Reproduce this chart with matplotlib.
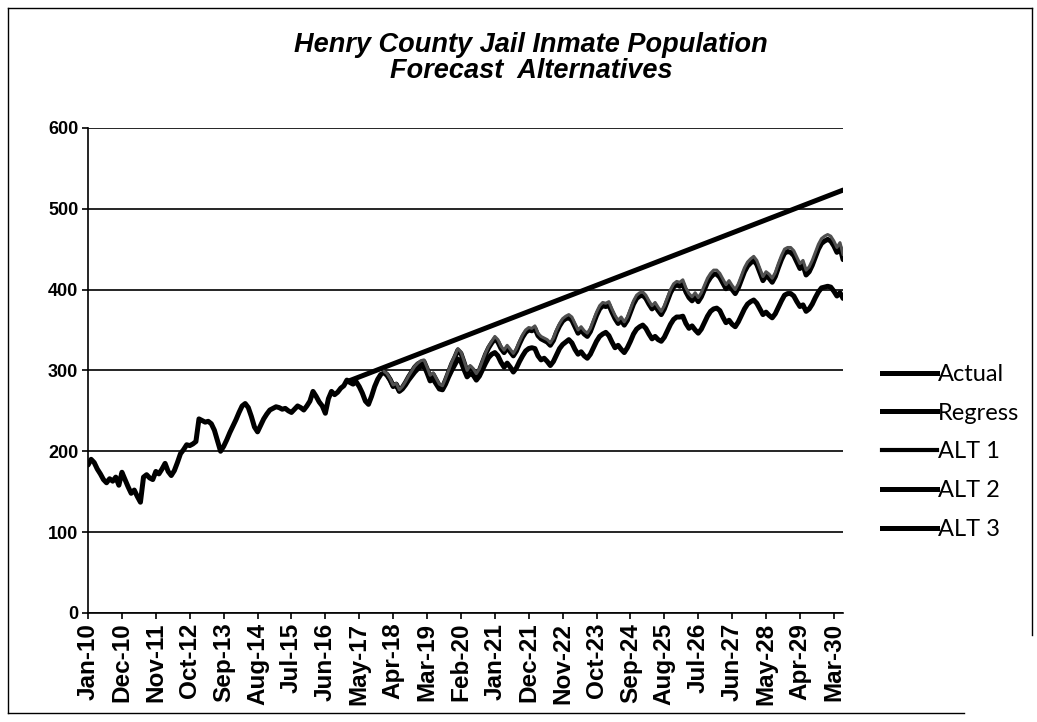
import matplotlib.pyplot as plt
from matplotlib.lines import Line2D
import numpy as np
import pandas as pd

# monthly categories Jan-10 .. Jun-30
months = pd.date_range("2010-01-01", periods=246, freq="MS").strftime("%b-%y").tolist()

# Actual, Jan-10 .. Dec-17
actual = [
    183, 190, 186, 178, 172, 165, 161, 166, 163, 168, 158, 174,  # 2010
    165, 156, 148, 152, 144, 137, 168, 171, 167, 165, 175, 172,  # 2011
    178, 185, 175, 170, 176, 186, 197, 202, 208, 207, 209, 212,  # 2012
    240, 238, 236, 237, 234, 226, 213, 200, 206, 214, 223, 231,  # 2013
    239, 248, 256, 259, 254, 243, 230, 224, 232, 240, 246, 251,  # 2014
    253, 255, 254, 252, 253, 250, 248, 252, 256, 254, 251, 256,  # 2015
    262, 274, 268, 261, 256, 247, 265, 274, 270, 273, 278, 281,  # 2016
    288, 285, 283, 286, 280, 272, 262, 258, 268, 280, 289, 295,  # 2017
]

# Regression trend line (straight line, start and end)
regress_months = ["Jan-17", "Jun-30"]
regress = [286, 523]

# forecasts, Jan-18 .. Jun-30
alt1 = [
    299, 296, 290, 282, 284, 276, 280, 286, 293, 299, 305, 309,  # 2018
    312, 313, 304, 294, 297, 290, 283, 281, 290, 300, 310, 318,  # 2019
    327, 323, 312, 300, 306, 302, 296, 302, 312, 322, 330, 336,  # 2020
    342, 338, 330, 325, 331, 326, 321, 327, 336, 344, 350, 353,  # 2021
    352, 355, 346, 342, 340, 338, 334, 340, 350, 358, 364, 367,  # 2022
    369, 366, 358, 350, 354, 349, 346, 352, 362, 372, 380, 384,  # 2023
    383, 385, 376, 368, 362, 366, 360, 366, 376, 386, 393, 396,  # 2024
    397, 393, 386, 380, 384, 378, 373, 380, 390, 400, 407, 410,  # 2025
    409, 412, 402, 395, 391, 396, 390, 396, 405, 414, 420, 424,  # 2026
    424, 420, 413, 406, 411, 405, 400, 407, 417, 427, 434, 438,  # 2027
    441, 436, 426, 416, 422, 419, 414, 421, 432, 442, 450, 452,  # 2028
    452, 448, 440, 432, 436, 424, 428, 436, 446, 456, 463, 466,  # 2029
    468, 466, 460, 452, 458, 443,                                # 2030
]
alt2 = [
    298, 295, 289, 281, 283, 275, 279, 285, 292, 298, 304, 308,
    310, 311, 302, 292, 295, 288, 281, 279, 288, 298, 308, 316,
    325, 321, 310, 298, 304, 300, 294, 300, 310, 320, 328, 334,
    339, 335, 327, 322, 328, 323, 318, 324, 333, 341, 347, 350,
    349, 352, 343, 339, 337, 335, 331, 337, 347, 355, 361, 364,
    365, 362, 354, 346, 350, 345, 342, 348, 358, 368, 376, 380,
    379, 381, 372, 364, 358, 362, 356, 362, 372, 382, 389, 392,
    393, 389, 382, 376, 380, 374, 369, 376, 386, 396, 403, 406,
    404, 407, 397, 390, 386, 391, 385, 391, 400, 409, 415, 419,
    419, 415, 408, 401, 406, 400, 395, 402, 412, 422, 429, 433,
    436, 431, 421, 411, 417, 414, 409, 416, 427, 437, 445, 447,
    446, 442, 434, 426, 430, 418, 422, 430, 440, 450, 457, 460,
    462, 460, 454, 446, 452, 437,
]
alt3 = [
    297, 294, 288, 280, 282, 274, 277, 282, 288, 293, 298, 302,
    305, 306, 297, 287, 289, 283, 277, 276, 283, 292, 300, 307,
    314, 311, 301, 292, 296, 294, 288, 293, 301, 309, 316, 320,
    322, 318, 310, 304, 309, 304, 298, 303, 311, 318, 324, 327,
    328, 327, 318, 313, 315, 311, 306, 311, 319, 327, 332, 335,
    338, 334, 326, 320, 323, 318, 315, 320, 328, 336, 342, 345,
    347, 343, 335, 328, 331, 326, 322, 328, 336, 345, 351, 354,
    356, 352, 345, 339, 342, 338, 336, 341, 349, 357, 363, 366,
    366, 367, 358, 352, 355, 350, 346, 351, 359, 367, 373, 376,
    377, 374, 366, 359, 362, 357, 354, 360, 368, 376, 382, 385,
    387, 383, 376, 369, 372, 368, 365, 370, 378, 386, 393, 395,
    395, 392, 385, 379, 381, 373, 376, 382, 390, 397, 402, 403,
    404, 403, 398, 392, 396, 389,
]
forecast_start = "Jan-18"

x = np.arange(len(months))
x_act = x[:len(actual)]
f0 = months.index(forecast_start)
x_fc = x[f0:f0 + len(alt1)]
x_reg = [months.index(m) for m in regress_months]

plt.rcParams['font.family'] = ['Liberation Sans', 'DejaVu Sans']

fig = plt.figure(figsize=(10.37, 7.22), dpi=100)
ax = fig.add_axes([0.0849, 0.151, 0.7281, 0.672])

lw = 3.6
ax.plot(x_act, actual, color='black', lw=lw, solid_capstyle='round', zorder=3)
ax.plot(x_reg, regress, color='black', lw=lw, solid_capstyle='round', zorder=3)
ax.plot(x_fc, alt2, color='black', lw=lw, solid_capstyle='round', zorder=3)
ax.plot(x_fc, alt1, color='#505050', lw=2.2, solid_capstyle='round', zorder=4)
ax.plot(x_fc, alt3, color='black', lw=lw, solid_capstyle='round', zorder=3)

ax.set_xlim(0, len(months) - 1)
ax.set_ylim(0, 600)
ax.set_yticks(range(0, 601, 100))
ax.set_xticks(x[::11])
ax.set_xticklabels(months[::11], rotation=90, fontsize=17.5, fontweight='bold')
for t in ax.get_yticklabels():
    t.set_fontsize(13)
    t.set_fontweight('bold')

ax.grid(axis='y', color='black', lw=1.2)
ax.set_axisbelow(True)
for s in ['top', 'right']:
    ax.spines[s].set_visible(False)
ax.spines['left'].set_linewidth(1.2)
ax.spines['bottom'].set_linewidth(1.2)
ax.tick_params(axis='both', direction='out', length=4, width=1.2, pad=3)

fig.text(531 / 1037, 1 - 58 / 722, "Henry County Jail Inmate Population\nForecast  Alternatives",
         ha='center', va='center', fontsize=19.5, fontweight='bold', style='italic',
         linespacing=1.05)

handles = [Line2D([0], [0], color='black', lw=lw),
           Line2D([0], [0], color='black', lw=lw),
           Line2D([0], [0], color='black', lw=3.0),
           Line2D([0], [0], color='black', lw=lw),
           Line2D([0], [0], color='black', lw=lw)]
fig.legend(handles, ["Actual", "Regress", "ALT 1", "ALT 2", "ALT 3"],
           loc='center left', bbox_to_anchor=(0.830, 0.374), frameon=False,
           prop={'family': 'Lato', 'size': 17}, handlelength=2.33,
           handletextpad=0.05, labelspacing=0.75)

# outer frame of the scanned page
frame = dict(color='black', lw=1.0, transform=fig.transFigure)
fig.add_artist(Line2D([0.008, 0.995], [0.989, 0.989], **frame))
fig.add_artist(Line2D([0.008, 0.008], [0.012, 0.989], **frame))
fig.add_artist(Line2D([0.008, 0.93], [0.012, 0.012], **frame))
fig.add_artist(Line2D([0.995, 0.995], [0.989, 0.12], **frame))

fig.savefig("out.png", dpi=100)
